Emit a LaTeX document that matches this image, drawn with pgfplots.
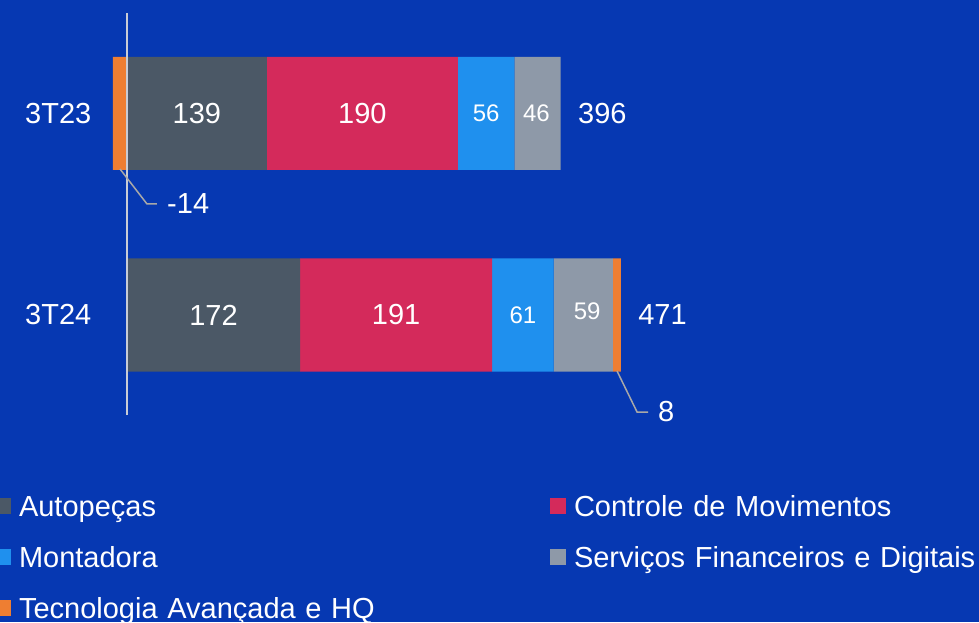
\documentclass[border=0pt]{standalone}
\usepackage{pgfplots}
\pgfplotsset{compat=1.18}
\usepackage{fontspec}
\setmainfont{Liberation Sans}
\definecolor{bg}{HTML}{0638B2}
\definecolor{autop}{HTML}{4B5866}
\definecolor{contr}{HTML}{D42A5B}
\definecolor{monta}{HTML}{1F90EE}
\definecolor{servi}{HTML}{8E99A8}
\definecolor{tecno}{HTML}{EE7E32}
\definecolor{leader}{HTML}{A8A8A8}
\definecolor{vline}{HTML}{C8CCD6}
\newcommand\fbig{\fontsize{29}{35}\selectfont}
\newcommand\fsmall{\fontsize{24}{29}\selectfont}
\pgfplotsset{
  common/.style={at={(0,0)}, anchor=south west, scale only axis, width=979pt, height=622pt,
    xmin=-126.24, xmax=846.92, ymin=0, ymax=622, clip=false,
    axis line style={draw=none}, tick style={draw=none}, xtick=\empty},
  sq/.style={legend image code/.code={\fill[##1] (0pt,-8pt) rectangle (16pt,8pt);}},
}
\begin{document}
\begin{tikzpicture}
\fill[bg] (0,0) rectangle (979pt,622pt);
\useasboundingbox (0,0) rectangle (979pt,622pt);
\begin{axis}[common,
  xbar stacked, stack negative=separate, bar width=113,
  ytick={307,508.5}, yticklabels={3T24,3T23},
  yticklabel style={anchor=west, inner sep=0pt, xshift=25pt, font=\fbig, text=white},
  legend columns=2,
  legend style={at={(axis cs:-131.2,129)}, anchor=north west, draw=none, fill=none,
     inner sep=0pt, outer sep=0pt, font=\fbig, column sep=8pt, row sep=25pt,
     nodes={inner sep=0pt, text=white, text width=430pt, align=left, text height=23.5pt, text depth=2.5pt},
     /tikz/every even column/.append style={column sep=101pt}},
]
\addplot[sq, fill=autop, draw=none] coordinates {(139,508.5) (172,307)};
\addlegendentry{Autopeças}
\addplot[sq, fill=contr, draw=none] coordinates {(190,508.5) (191,307)};
\addlegendentry{Controle de Movimentos}
\addplot[sq, fill=monta, draw=none] coordinates {(56,508.5) (61,307)};
\addlegendentry{Montadora}
\addplot[sq, fill=servi, draw=none] coordinates {(46,508.5) (59,307)};
\addlegendentry{Serviços Financeiros e Digitais}
\addplot[sq, fill=tecno, draw=none] coordinates {(-14,508.5) (8,307)};
\addlegendentry{Tecnologia Avançada e HQ}
\end{axis}
\begin{axis}[common, ytick=\empty]
\addplot[vline, line width=2pt] coordinates {(0,207) (0,609)};
\addplot[leader, line width=1.5pt] coordinates {(-6.96,453) (19.9,418) (29.8,418)};
\addplot[leader, line width=1.5pt] coordinates {(487.1,251) (507,210) (517.9,210)};
\addplot[draw=none, nodes near coords={\pgfplotspointmeta}, point meta=explicit symbolic,
  every node near coord/.append style={anchor=center, inner sep=0pt, font=\fbig, text=white}]
  coordinates {(69.5,508.5)[139] (234,508.5)[190] (86,307)[172] (267.5,307)[191]};
\addplot[draw=none, nodes near coords={\pgfplotspointmeta}, point meta=explicit symbolic,
  every node near coord/.append style={anchor=center, inner sep=0pt, font=\fsmall, text=white}]
  coordinates {(357,508.5)[56] (407,508.5)[46] (393.5,307)[61] (457.5,311)[59]};
\addplot[draw=none, nodes near coords={\pgfplotspointmeta}, point meta=explicit symbolic,
  every node near coord/.append style={anchor=west, inner sep=0pt, font=\fbig, text=white}]
  coordinates {(448.3,508.5)[396] (508,307)[471] (39.8,418)[-14] (527.8,210)[8]};
\end{axis}
\end{tikzpicture}
\end{document}
